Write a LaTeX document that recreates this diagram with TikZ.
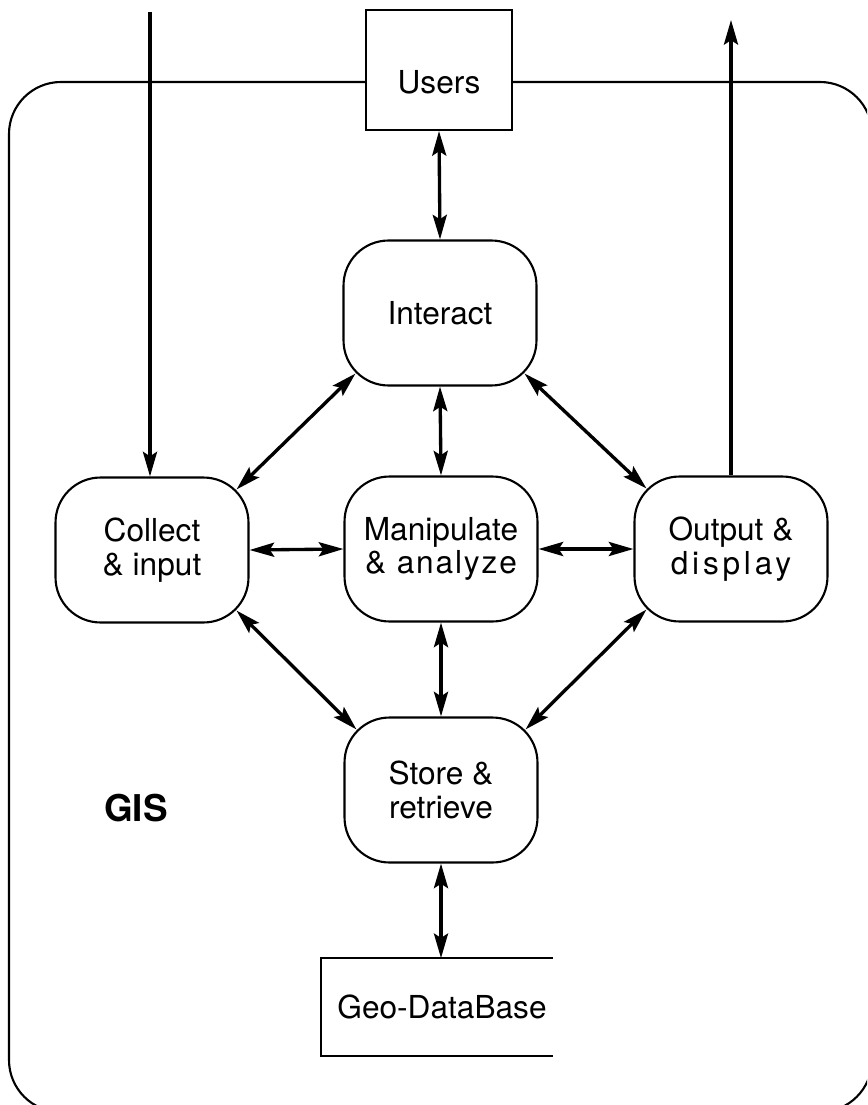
\documentclass[tikz,border=0pt]{standalone}
\usepackage{fontspec}
\setmainfont{TeX Gyre Heros}
\usetikzlibrary{arrows.meta,calc}

\newcommand{\spaced}[2]{{\addfontfeature{LetterSpace=#1}#2}}

\tikzset{
	proc/.style={draw, line width=1.2pt, rounded corners=0.9cm, minimum width=3.86cm,
		minimum height=2.9cm, align=center, font=\fontsize{18}{19}\selectfont},
	box/.style={draw, line width=1.2pt, fill=white, minimum width=2.92cm,
		minimum height=2.4cm},
	link/.style={line width=1.9pt, {Stealth[length=14pt,width=8pt,inset=2.5pt]}-{Stealth[length=14pt,width=8pt,inset=2.5pt]}},
	flow/.style={line width=1.9pt, -{Stealth[length=14pt,width=8pt,inset=2.5pt]}}
}

\begin{document}
\begin{tikzpicture}[x=0.02cm, y=-0.02cm]

		\clip (0,0) rectangle (867,1105);

		% Рамка GIS
		\draw[line width=1.2pt, rounded corners=1.04cm] (9,82) rectangle (872,1112);
		\node[font=\fontsize{21}{23}\selectfont\bfseries] (gis) at (136,808) {GIS};

		% Пользователи и база данных
		\node[box] (users) at (439,70) {};
		\node[font=\fontsize{18}{19}\selectfont] (userstext) at (439,82) {Users};
		\node[minimum width=4.5cm, minimum height=1.94cm, font=\fontsize{18}{19}\selectfont] (geo) at (437,1007) {\hspace{0.2cm}Geo-DataBase};
		\draw[line width=1.2pt] (geo.north east) -- (geo.north west) -- (geo.south west) -- (geo.south east);

		% Процессы
		\node[proc] (interact) at (440,313) {Interact};
		\node[proc] (manip) at (441,549) {Manipulate\\\spaced{6}{\& analyze}};
		\node[proc] (store) at (441,790) {Store \&\\retrieve};
		\node[proc] (collect) at (152,550) {Collect\\\& input};
		\node[proc] (output) at (731,549) {Output \&\\\spaced{12}{display}};

		% Вход и выход
		\coordinate (in) at (150,12);
		\coordinate (out) at (731,20);
		\draw[flow] (in) -- (collect.north -| in);
		\draw[flow] (output.north) -- (out);

		% Связи
		\draw[link] (users.south) -- (interact.north);
		\draw[link] (interact.south) -- (manip.north);
		\draw[link] (manip.south) -- (store.north);
		\draw[link] (store.south) -- (geo.north -| store.south);
		\draw[link] (collect.east) -- (manip.west);
		\draw[link] (manip.east) -- (output.west);
		\draw[link] ($(collect.north east)+(-13,13)$) -- ($(interact.south west)+(13,-13)$);
		\draw[link] ($(interact.south east)+(-13,-13)$) -- ($(output.north west)+(13,13)$);
		\draw[link] ($(collect.south east)+(-13,-13)$) -- ($(store.north west)+(13,13)$);
		\draw[link] ($(output.south west)+(13,-13)$) -- ($(store.north east)+(-13,13)$);

\end{tikzpicture}
\end{document}
